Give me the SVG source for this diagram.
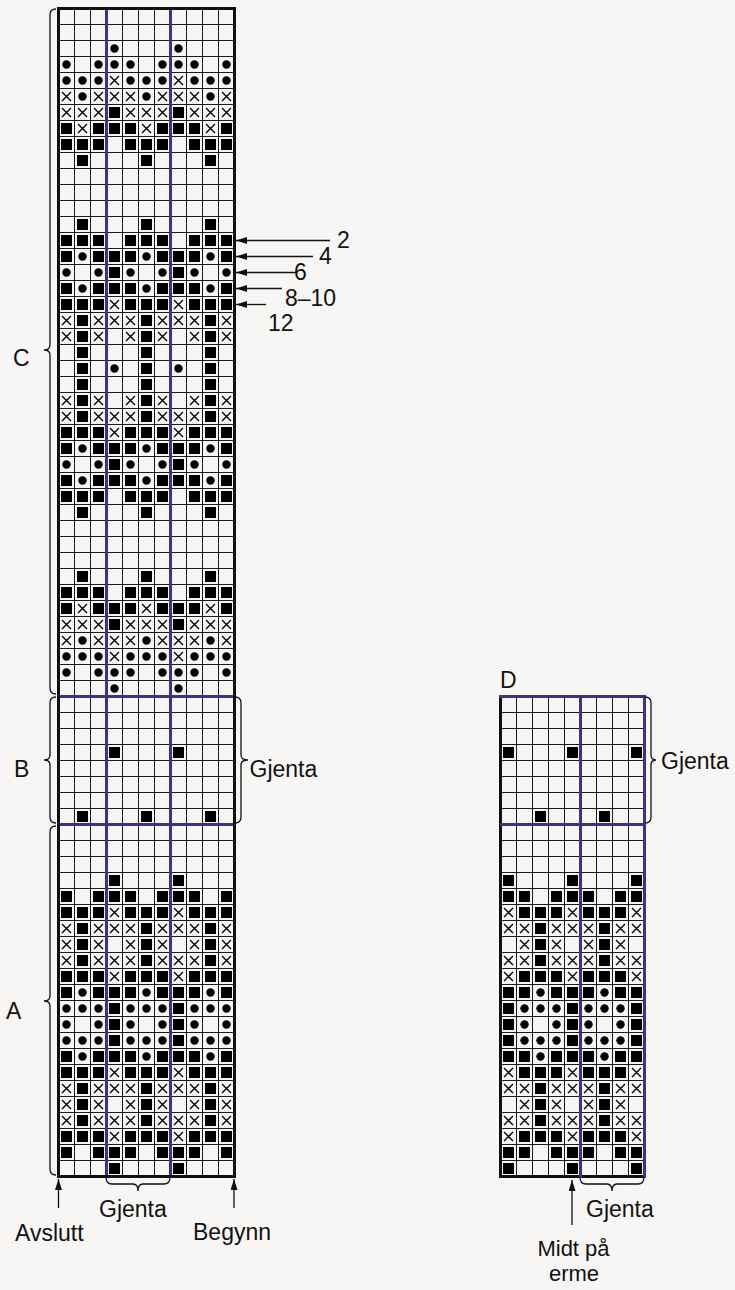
<svg xmlns="http://www.w3.org/2000/svg" width="735" height="1290" viewBox="0 0 735 1290">
<style>
.t{font-family:"Liberation Sans",Arial,Helvetica,sans-serif;font-size:23px;fill:#111}
.s{font-size:22px}
.gl{stroke:#1a1a1a;fill:none}
.brd{fill:none;stroke:#111;stroke-width:3}
.pu{stroke:#3a328c;stroke-width:3;fill:none}
.br{fill:none;stroke:#111;stroke-width:1.3}
.ar{stroke:#111;stroke-width:1.3;fill:none;marker-end:url(#ah)}
</style>
<defs>
<marker id="ah" viewBox="0 0 11 7" refX="11" refY="3.5" markerWidth="11" markerHeight="7" markerUnits="userSpaceOnUse" orient="auto"><path d="M0 0L11 3.5L0 7z" fill="#111"/></marker>
<rect id="S" x="3" y="3" width="11" height="11" fill="#000"/>
<circle id="D" cx="8.5" cy="8.5" r="4.2" fill="#000"/>
<path id="X" d="M4 4L13 13M13 4L4 13" stroke="#000" stroke-width="1.4" fill="none"/>
<g id="a1"><use href="#D" x="48"/></g>
<g id="a2"><use href="#D"/><use href="#D" x="32"/><use href="#D" x="48"/></g>
<g id="a3"><use href="#D"/><use href="#D" x="16"/><use href="#D" x="32"/><use href="#X" x="48"/></g>
<g id="a4"><use href="#X"/><use href="#D" x="16"/><use href="#X" x="32"/><use href="#X" x="48"/></g>
<g id="a5"><use href="#X"/><use href="#X" x="16"/><use href="#X" x="32"/><use href="#S" x="48"/></g>
<g id="a6"><use href="#S"/><use href="#X" x="16"/><use href="#S" x="32"/><use href="#S" x="48"/></g>
<g id="a7"><use href="#S"/><use href="#S" x="16"/><use href="#S" x="32"/></g>
<g id="a8"><use href="#S" x="16"/></g>
<g id="a9"><use href="#S"/><use href="#D" x="16"/><use href="#S" x="32"/><use href="#S" x="48"/></g>
<g id="a10"><use href="#D"/><use href="#D" x="32"/><use href="#S" x="48"/></g>
<g id="a11"><use href="#S"/><use href="#S" x="16"/><use href="#S" x="32"/><use href="#X" x="48"/></g>
<g id="a12"><use href="#X"/><use href="#S" x="16"/><use href="#X" x="32"/><use href="#X" x="48"/></g>
<g id="a13"><use href="#X"/><use href="#S" x="16"/><use href="#X" x="32"/></g>
<g id="a14"><use href="#S" x="16"/><use href="#D" x="48"/></g>
<g id="a15"><use href="#S" x="48"/></g>
<g id="a16"><use href="#S"/><use href="#S" x="32"/><use href="#S" x="48"/></g>
<g id="a17"><use href="#D"/><use href="#D" x="16"/><use href="#D" x="32"/><use href="#S" x="48"/></g>
<g id="r1"><use href="#a1"/><use href="#a1" x="64"/><use href="#a1" x="128"/></g>
<g id="r2"><use href="#a2"/><use href="#a2" x="64"/><use href="#a2" x="128"/></g>
<g id="r3"><use href="#a3"/><use href="#a3" x="64"/><use href="#a3" x="128"/></g>
<g id="r4"><use href="#a4"/><use href="#a4" x="64"/><use href="#a4" x="128"/></g>
<g id="r5"><use href="#a5"/><use href="#a5" x="64"/><use href="#a5" x="128"/></g>
<g id="r6"><use href="#a6"/><use href="#a6" x="64"/><use href="#a6" x="128"/></g>
<g id="r7"><use href="#a7"/><use href="#a7" x="64"/><use href="#a7" x="128"/></g>
<g id="r8"><use href="#a8"/><use href="#a8" x="64"/><use href="#a8" x="128"/></g>
<g id="r9"><use href="#a9"/><use href="#a9" x="64"/><use href="#a9" x="128"/></g>
<g id="r10"><use href="#a10"/><use href="#a10" x="64"/><use href="#a10" x="128"/></g>
<g id="r11"><use href="#a11"/><use href="#a11" x="64"/><use href="#a11" x="128"/></g>
<g id="r12"><use href="#a12"/><use href="#a12" x="64"/><use href="#a12" x="128"/></g>
<g id="r13"><use href="#a13"/><use href="#a13" x="64"/><use href="#a13" x="128"/></g>
<g id="r14"><use href="#a14"/><use href="#a14" x="64"/><use href="#a14" x="128"/></g>
<g id="r15"><use href="#a15"/><use href="#a15" x="64"/><use href="#a15" x="128"/></g>
<g id="r16"><use href="#a16"/><use href="#a16" x="64"/><use href="#a16" x="128"/></g>
<g id="r17"><use href="#a17"/><use href="#a17" x="64"/><use href="#a17" x="128"/></g>
<clipPath id="cm"><rect x="58" y="0" width="176" height="1290"/></clipPath>
<clipPath id="cd"><rect x="500" y="0" width="144" height="1290"/></clipPath>
</defs>
<rect width="735" height="1290" fill="#f7f6f4"/>

<g id="chart-main">
<line class="gl" x1="146" y1="8" x2="146" y2="1176" stroke-width="176" stroke-dasharray="1 15"/>
<line class="gl" x1="58" y1="592" x2="234" y2="592" stroke-width="1168" stroke-dasharray="1 15"/>
<g clip-path="url(#cm)">
<g id="rowsC">
<use href="#r1" x="58" y="40"/>
<use href="#r2" x="58" y="56"/>
<use href="#r3" x="58" y="72"/>
<use href="#r4" x="58" y="88"/>
<use href="#r5" x="58" y="104"/>
<use href="#r6" x="58" y="120"/>
<use href="#r7" x="58" y="136"/>
<use href="#r8" x="58" y="152"/>
<use href="#r8" x="58" y="216"/>
<use href="#r7" x="58" y="232"/>
<use href="#r9" x="58" y="248"/>
<use href="#r10" x="58" y="264"/>
<use href="#r9" x="58" y="280"/>
<use href="#r11" x="58" y="296"/>
<use href="#r12" x="58" y="312"/>
<use href="#r13" x="58" y="328"/>
<use href="#r8" x="58" y="344"/>
<use href="#r14" x="58" y="360"/>
<use href="#r8" x="58" y="376"/>
<use href="#r13" x="58" y="392"/>
<use href="#r12" x="58" y="408"/>
<use href="#r11" x="58" y="424"/>
<use href="#r9" x="58" y="440"/>
<use href="#r10" x="58" y="456"/>
<use href="#r9" x="58" y="472"/>
<use href="#r7" x="58" y="488"/>
<use href="#r8" x="58" y="504"/>
<use href="#r8" x="58" y="568"/>
<use href="#r7" x="58" y="584"/>
<use href="#r6" x="58" y="600"/>
<use href="#r5" x="58" y="616"/>
<use href="#r4" x="58" y="632"/>
<use href="#r3" x="58" y="648"/>
<use href="#r2" x="58" y="664"/>
<use href="#r1" x="58" y="680"/>
</g>
<g id="rowsBA">
<use href="#r15" x="58" y="744"/>
<use href="#r8" x="58" y="808"/>
<use href="#r15" x="58" y="872"/>
<use href="#r16" x="58" y="888"/>
<use href="#r11" x="58" y="904"/>
<use href="#r12" x="58" y="920"/>
<use href="#r13" x="58" y="936"/>
<use href="#r12" x="58" y="952"/>
<use href="#r11" x="58" y="968"/>
<use href="#r9" x="58" y="984"/>
<use href="#r17" x="58" y="1000"/>
<use href="#r10" x="58" y="1016"/>
<use href="#r17" x="58" y="1032"/>
<use href="#r9" x="58" y="1048"/>
<use href="#r11" x="58" y="1064"/>
<use href="#r12" x="58" y="1080"/>
<use href="#r13" x="58" y="1096"/>
<use href="#r12" x="58" y="1112"/>
<use href="#r11" x="58" y="1128"/>
<use href="#r16" x="58" y="1144"/>
<use href="#r15" x="58" y="1160"/>
</g>
</g>
<path class="pu" d="M106.5 8V1176M170.5 8V1176M58 696.5H234M58 824.5H234"/>
<rect class="brd" x="58.5" y="8.5" width="176" height="1168"/>
</g>

<g id="chart-d">
<line class="gl" x1="572" y1="696" x2="572" y2="1176" stroke-width="144" stroke-dasharray="1 15"/>
<line class="gl" x1="500" y1="936" x2="644" y2="936" stroke-width="480" stroke-dasharray="1 15"/>
<g clip-path="url(#cd)"><use href="#rowsBA" x="394"/></g>
<path class="brd" d="M500.5 696V1176.5H645"/>
<path class="pu" d="M499 696.5H646M580.5 696V1178M644.5 696V1178M500 824.5H644"/>
</g>

<g id="braces">
<path class="br" d="M56 9Q50 9 50 15L50 345Q50 350 44 350Q50 350 50 355L50 688Q50 694 56 694"/>
<path class="br" d="M56 697Q50 697 50 703L50 755Q50 760 44 760Q50 760 50 765L50 817Q50 823 56 823"/>
<path class="br" d="M56 826Q50 826 50 832L50 996Q50 1001 44 1001Q50 1001 50 1006L50 1169Q50 1175 56 1175"/>
<path class="br" d="M235 697Q241 697 241 703L241 755Q241 760 248 760Q241 760 241 765L241 817Q241 823 235 823"/>
<path class="br" d="M645 697Q651 697 651 703L651 755Q651 760 656 760Q651 760 651 765L651 817Q651 823 645 823"/>
<path class="br" d="M106 1177Q106 1184 112 1184L133 1184Q138 1184 138 1191Q138 1184 143 1184L164 1184Q170 1184 170 1177"/>
<path class="br" d="M580 1177Q580 1184 586 1184L607 1184Q612 1184 612 1191Q612 1184 617 1184L638 1184Q644 1184 644 1177"/>
</g>

<g id="arrows">
<line class="ar" x1="330" y1="240.5" x2="236" y2="240.5"/>
<line class="ar" x1="313" y1="256.5" x2="236" y2="256.5"/>
<line class="ar" x1="296" y1="272.5" x2="236" y2="272.5"/>
<line class="ar" x1="282" y1="288.5" x2="236" y2="288.5"/>
<line class="ar" x1="266" y1="304.5" x2="236" y2="304.5"/>
<line class="ar" x1="58.5" y1="1208" x2="58.5" y2="1179"/>
<line class="ar" x1="234" y1="1208" x2="234" y2="1179"/>
<line class="ar" x1="572" y1="1225" x2="572" y2="1180"/>
</g>

<g id="labels">
<text class="t" x="13" y="366">C</text>
<text class="t" x="14" y="777">B</text>
<text class="t" x="6" y="1019">A</text>
<text class="t" x="500" y="688">D</text>
<text class="t" x="337" y="248">2</text>
<text class="t" x="319" y="264">4</text>
<text class="t" x="294" y="280">6</text>
<text class="t" x="285" y="306">8–10</text>
<text class="t" x="268" y="331">12</text>
<text class="t" x="249.5" y="777">Gjenta</text>
<text class="t" x="661" y="769">Gjenta</text>
<text class="t" x="99" y="1217">Gjenta</text>
<text class="t" x="586" y="1217">Gjenta</text>
<text class="t" x="15" y="1241">Avslutt</text>
<text class="t" x="193" y="1240">Begynn</text>
<text class="t s" x="573.5" y="1256" text-anchor="middle">Midt på</text>
<text class="t s" x="574" y="1281" text-anchor="middle">erme</text>
</g>
</svg>
